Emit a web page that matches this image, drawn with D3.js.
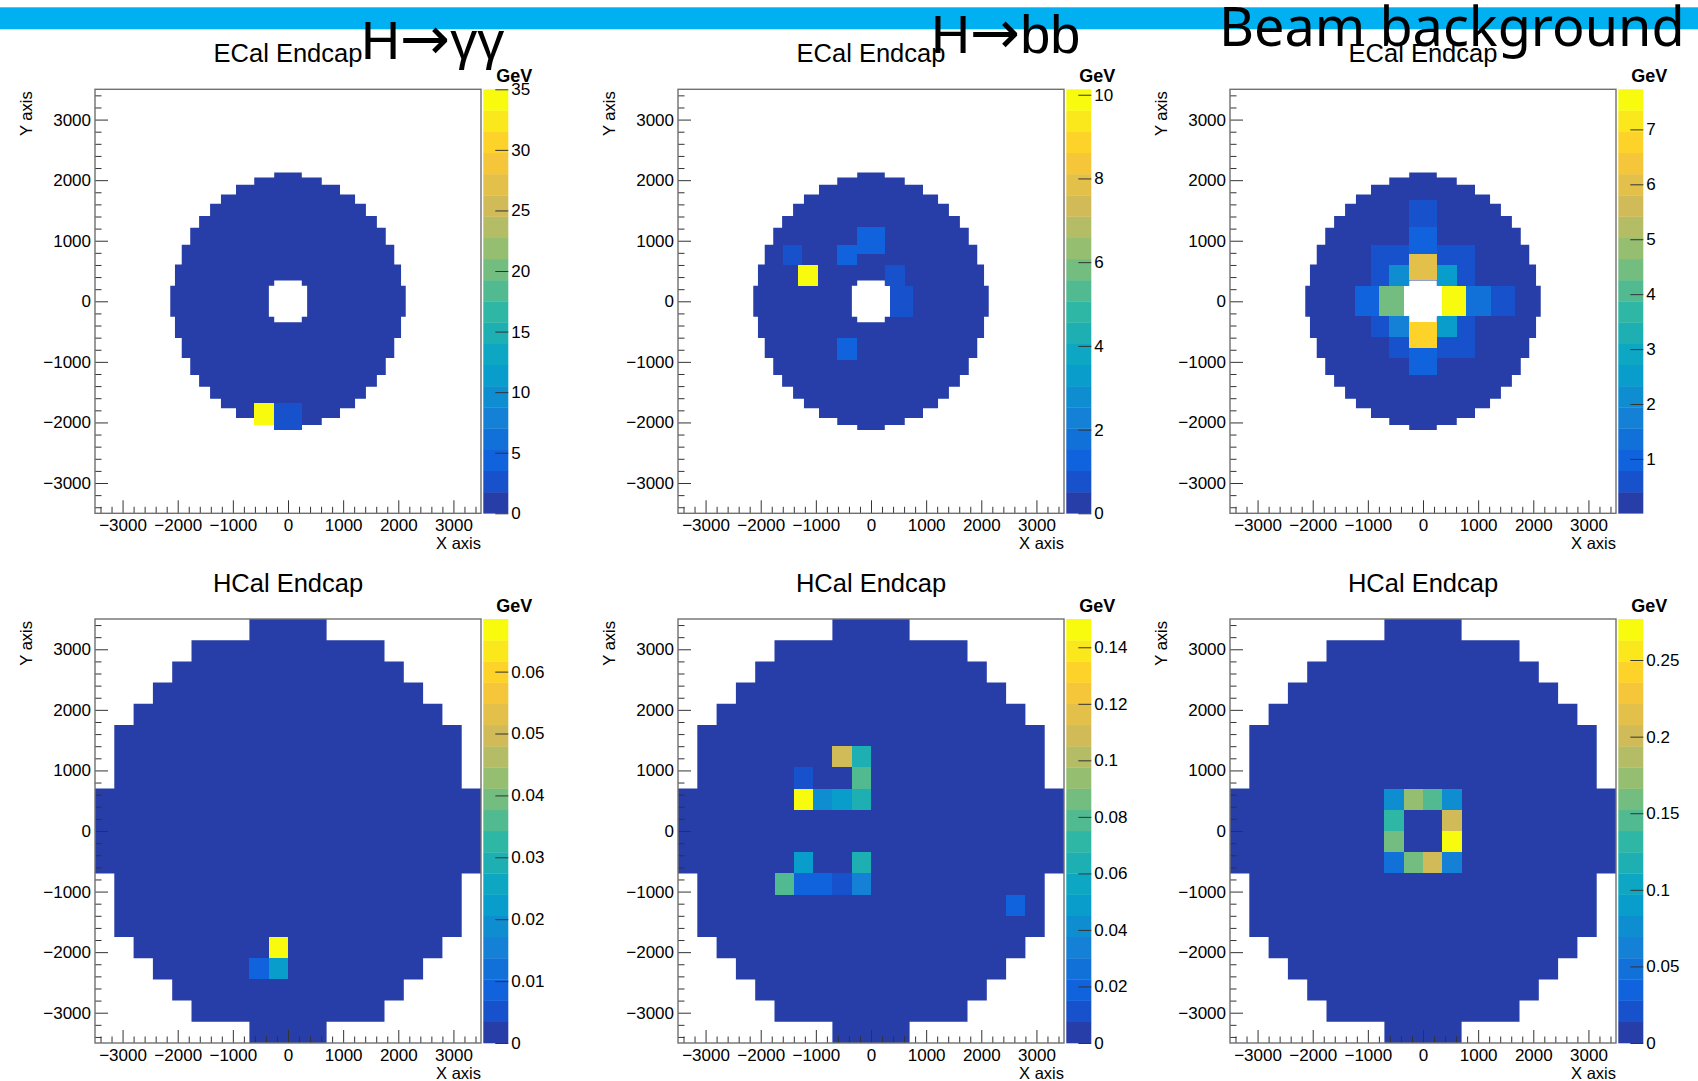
<!DOCTYPE html>
<html>
<head>
<meta charset="utf-8">
<script src="https://cdn.jsdelivr.net/npm/d3@7"></script>
<style>
  body { margin: 0; background: #fff; }
  svg text { font-family: "Liberation Sans", Arial, Helvetica, sans-serif; fill: #000; }
</style>
</head>
<body>
<svg id="chart" width="1698" height="1081"></svg>
<script>
// ---------------- data ----------------
// slide headings, split into [particle, arrow, products]
const slideTitleParts = [["H", "→", "γγ"], ["H", "→", "bb"], ["Beam background", "", ""]];
const rowTitles = ["ECal Endcap", "HCal Endcap"];
const axisRange = [-3500, 3500];
const axisTicks = [-3000, -2000, -1000, 0, 1000, 2000, 3000];

// Endcap outlines: upper |y| edge of each row band (mm) and the band's half-width (mm)
const ecalRowTop  = [257, 607, 935, 1216, 1410, 1610, 1765, 1925, 2043, 2125];
const ecalRowHalf = [2135, 2050, 1927, 1773, 1612, 1413, 1216, 943, 612, 250];
const ecalHoleTop  = [257, 345];
const ecalHoleHalf = [347, 250];
const hcalRowTop  = [700, 1750, 2100, 2450, 2800, 3150, 3500];
const hcalRowHalf = [3500, 3150, 2800, 2450, 2100, 1750, 700];

// Energy deposits: [x0, x1, y0, y1, E in GeV]
const ecalGammaHits = [
  [-608, -250, -2041, -1686, 35.0],
  [-250,  250, -2125, -1686, 2.5]
];
const ecalBbHits = [
  [-1325, -966,  256,  605, 10.13],
  [-1589, -1256, 605,  935, 0.8],
  [-620,  -255,  605,  935, 1.4],
  [-255,   250,  780, 1222, 1.2],
  [ 250,   612,  256,  605, 0.9],
  [ 342,   768, -254,  256, 0.85],
  [-617,  -261, -969, -611, 1.3]
];
const ecalBeamHits = [
  [-250,  250, 1222, 1665, 0.6],
  [-250,  250,  781, 1222, 1.0],
  [-250,  250,  345,  781, 6.1],
  [-250,  250, -776, -345, 6.6],
  [-250,  250, -1216, -776, 1.0],
  [-1235, -793, -250, 257, 1.0],
  [-793,  -347, -250, 257, 4.5],
  [ 347,   780, -250, 257, 7.73],
  [ 780,  1228, -250, 257, 1.3],
  [1228,  1668, -250, 257, 0.6],
  [-620,  -250,  257, 605, 2.1],
  [ 250,   612,  257, 605, 2.7],
  [-620,  -250, -590, -250, 1.8],
  [ 250,   612, -590, -250, 2.7],
  [-940,  -250,  605, 935, 0.6],
  [ 250,   940,  605, 935, 0.6],
  [-950,  -620,  257, 605, 0.6],
  [ 612,   940,  257, 605, 0.6],
  [-950,  -620, -590, -250, 0.6],
  [ 612,   940, -590, -250, 0.6],
  [-620,  -250, -935, -590, 0.6],
  [ 250,   940, -935, -590, 0.6]
];
const hcalGammaHits = [
  [-350,    0, -2100, -1750, 0.0685],
  [-350,    0, -2450, -2100, 0.023],
  [-700, -350, -2450, -2100, 0.009]
];
const hcalBbHits = [
  [-700,  -350, 1050, 1400, 0.109],
  [-350,     0, 1050, 1400, 0.064],
  [-1400, -1050, 700, 1050, 0.011],
  [-350,     0,  700, 1050, 0.079],
  [-1400, -1050, 350,  700, 0.150],
  [-1050,  -700, 350,  700, 0.041],
  [-700,   -350, 350,  700, 0.045],
  [-350,      0, 350,  700, 0.064],
  [-1400, -1050, -700, -350, 0.047],
  [-350,      0, -700, -350, 0.062],
  [-1750, -1400, -1050, -700, 0.080],
  [-1400, -1050, -1050, -700, 0.018],
  [-1050,  -700, -1050, -700, 0.018],
  [-700,   -350, -1050, -700, 0.012],
  [-350,      0, -1050, -700, 0.033],
  [2450,   2800, -1400, -1050, 0.020]
];
const hcalBeamHits = [
  [-700, -350,  350,  700, 0.076],
  [-350,    0,  350,  700, 0.172],
  [   0,  350,  350,  700, 0.145],
  [ 350,  700,  350,  700, 0.076],
  [-700, -350,    0,  350, 0.130],
  [ 350,  700,    0,  350, 0.205],
  [-700, -350, -350,    0, 0.160],
  [ 350,  700, -350,    0, 0.2768],
  [-700, -350, -700, -350, 0.050],
  [-350,    0, -700, -350, 0.160],
  [   0,  350, -700, -350, 0.205],
  [ 350,  700, -700, -350, 0.068]
];

// Small deposits filling the whole endcap face (lowest colour level)
const faceEnergy = [0.2, 0.05, 0.05, 0.0005, 0.001, 0.002];
const zMinimum = [0, 0, 0.01, 0, 0, 0];
const zTickValues = [
  [0, 5, 10, 15, 20, 25, 30, 35],
  [0, 2, 4, 6, 8, 10],
  [1, 2, 3, 4, 5, 6, 7],
  [0, 0.01, 0.02, 0.03, 0.04, 0.05, 0.06],
  [0, 0.02, 0.04, 0.06, 0.08, 0.1, 0.12, 0.14],
  [0, 0.05, 0.1, 0.15, 0.2, 0.25]
];

// ---------------- layout ----------------
const frameLeft = [95, 678, 1230];
const frameTop = [89.3, 619];
const frameW = 386, frameH = 424;
const nLevels = 20;

// ROOT "kBird" palette
const birdStops = [0, 0.125, 0.25, 0.375, 0.5, 0.625, 0.75, 0.875, 1];
const birdR = [0.2082, 0.0592, 0.0780, 0.0232, 0.1802, 0.5301, 0.8186, 0.9956, 0.9764];
const birdG = [0.1664, 0.3599, 0.5041, 0.6419, 0.7178, 0.7492, 0.7328, 0.7862, 0.9832];
const birdB = [0.5293, 0.8684, 0.8385, 0.7914, 0.6425, 0.4662, 0.3499, 0.1968, 0.0539];
const birdScale = d3.scaleLinear().domain(birdStops)
  .range(birdStops.map((s, i) => d3.rgb(birdR[i] * 255, birdG[i] * 255, birdB[i] * 255)))
  .interpolate(d3.interpolateRgb);
function levelColor(level) {
  const k = Math.floor((level + 0.99) * 255 / nLevels);
  return birdScale(Math.min(k, 254) / 254);
}
function valueColor(v, zmin, zmax) {
  let level = Math.floor(0.01 + (v - zmin) * nLevels / (zmax - zmin));
  level = Math.max(0, Math.min(nLevels - 1, level));
  return levelColor(level);
}

// Closed stair-step polygon, symmetric in x and y, from row bands
function staircase(tops, halves) {
  const q = [[halves[0], 0]];
  tops.forEach((t, i) => {
    q.push([halves[i], t]);
    if (i + 1 < tops.length) q.push([halves[i + 1], t]);
  });
  q.push([0, tops[tops.length - 1]]);
  const pts = [];
  q.forEach(p => pts.push([p[0], p[1]]));
  q.slice().reverse().forEach(p => pts.push([-p[0], p[1]]));
  q.forEach(p => pts.push([-p[0], -p[1]]));
  q.slice().reverse().forEach(p => pts.push([p[0], -p[1]]));
  return pts;
}

const svg = d3.select("#chart");

// slide banner
svg.append("rect").attr("x", 0).attr("y", 7.3).attr("width", 1698).attr("height", 22)
  .attr("fill", "#00b0f0");

const panelHits = [ecalGammaHits, ecalBbHits, ecalBeamHits, hcalGammaHits, hcalBbHits, hcalBeamHits];
const fmtAxis = d3.format("d");
const fmtZ = v => String(+v.toFixed(4));

panelHits.forEach((hits, idx) => {
  const row = Math.floor(idx / 3), col = idx % 3;
  const isEcal = row === 0;
  const x0 = frameLeft[col], y0 = frameTop[row];
  const g = svg.append("g").attr("transform", `translate(${x0},${y0})`);
  const x = d3.scaleLinear().domain(axisRange).range([0, frameW]);
  const y = d3.scaleLinear().domain(axisRange).range([frameH, 0]);
  const zmin = zMinimum[idx];
  const zmax = d3.max(hits, d => d[4]);

  // endcap face
  const outer = isEcal ? staircase(ecalRowTop, ecalRowHalf) : staircase(hcalRowTop, hcalRowHalf);
  const line = d3.line().x(d => x(d[0])).y(d => y(d[1]));
  let dPath = line(outer) + "Z";
  if (isEcal) dPath += line(staircase(ecalHoleTop, ecalHoleHalf)) + "Z";
  g.append("path").attr("d", dPath).attr("fill-rule", "evenodd")
    .attr("fill", valueColor(faceEnergy[idx], zmin, zmax));

  // cells with deposits
  g.selectAll("rect.hit").data(hits).join("rect").attr("class", "hit")
    .attr("x", d => x(d[0])).attr("width", d => x(d[1]) - x(d[0]))
    .attr("y", d => y(d[3])).attr("height", d => y(d[2]) - y(d[3]))
    .attr("fill", d => valueColor(d[4], zmin, zmax))
    .attr("shape-rendering", "crispEdges");

  // axes (ticks inside the frame)
  const minor = d3.range(-3400, 3401, 200).filter(v => v % 1000 !== 0);
  const styleAxis = sel => {
    sel.select(".domain").remove();
    sel.selectAll("line").attr("stroke", "#333").attr("stroke-width", 1);
    sel.selectAll("text").style("font-size", "17px").attr("fill", "#000");
  };
  g.append("g").attr("transform", `translate(0,${frameH})`)
    .call(d3.axisBottom(x).tickValues(minor).tickSizeInner(-6.5).tickSizeOuter(0).tickFormat(""))
    .call(styleAxis);
  g.append("g").attr("transform", `translate(0,${frameH})`)
    .call(d3.axisBottom(x).tickValues(axisTicks).tickSizeInner(-13).tickSizeOuter(0)
      .tickPadding(6).tickFormat(fmtAxis))
    .call(styleAxis);
  g.append("g")
    .call(d3.axisLeft(y).tickValues(minor).tickSizeInner(-6.5).tickSizeOuter(0).tickFormat(""))
    .call(styleAxis);
  g.append("g")
    .call(d3.axisLeft(y).tickValues(axisTicks).tickSizeInner(-13).tickSizeOuter(0)
      .tickPadding(4).tickFormat(fmtAxis))
    .call(styleAxis);

  // frame
  g.append("rect").attr("width", frameW).attr("height", frameH)
    .attr("fill", "none").attr("stroke", "#707070").attr("stroke-width", 1.4);

  // axis titles and histogram title
  g.append("text").attr("x", frameW).attr("y", frameH + 36).attr("text-anchor", "end")
    .style("font-size", "16.5px").text("X axis");
  g.append("text").attr("transform", `translate(-63,2) rotate(-90)`).attr("text-anchor", "end")
    .style("font-size", "16.5px").text("Y axis");
  g.append("text").attr("x", frameW / 2).attr("y", -27).attr("text-anchor", "middle")
    .style("font-size", "25.5px").text(rowTitles[row]);

  // colour palette
  const cb = g.append("g").attr("transform", `translate(${frameW + 2.3},0)`);
  const cbW = 25;
  const z = d3.scaleLinear().domain([zmin, zmax]).range([frameH, 0]);
  const levels = d3.range(nLevels);
  cb.selectAll("rect").data(levels).join("rect")
    .attr("x", 0).attr("width", cbW)
    .attr("y", i => z(zmin + (i + 1) * (zmax - zmin) / nLevels))
    .attr("height", i => z(zmin + i * (zmax - zmin) / nLevels) - z(zmin + (i + 1) * (zmax - zmin) / nLevels) + 0.3)
    .attr("fill", i => levelColor(i));
  cb.append("g").attr("transform", `translate(${cbW},0)`)
    .call(d3.axisRight(z).tickValues(zTickValues[idx]).tickSizeInner(-13).tickSizeOuter(0)
      .tickPadding(3).tickFormat(fmtZ))
    .call(sel => {
      sel.select(".domain").remove();
      sel.selectAll("line").attr("stroke", "#333").attr("stroke-width", 1);
      sel.selectAll("text").style("font-size", "17px").attr("fill", "#000");
    });
  cb.append("text").attr("x", 13).attr("y", -7)
    .style("font-size", "18px").style("font-weight", "bold").text("GeV");
});

// slide headings
const headingX = [361, 931, 1219];
const headingY = [59, 53, 46];
const arrowSize = [60, 60];
slideTitleParts.forEach((parts, i) => {
  const t = svg.append("text").attr("x", headingX[i]).attr("y", headingY[i])
    .style("font-size", "54px");
  if (parts[1] === "") {
    t.style("font-family", '"Noto Sans", "DejaVu Sans", sans-serif').text(parts[0]);
    return;
  }
  t.append("tspan").text(parts[0]);
  t.append("tspan").style("font-family", '"DejaVu Sans", sans-serif')
    .style("font-size", arrowSize[i] + "px").text(parts[1]);
  t.append("tspan").text(parts[2]);
});
</script>
</body>
</html>
